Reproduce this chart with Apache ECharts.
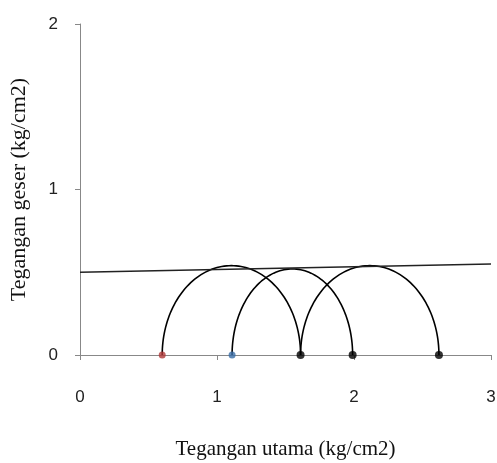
<!DOCTYPE html>
<html>
<head>
<meta charset="utf-8">
<script src="https://cdn.jsdelivr.net/npm/echarts@6/dist/echarts.min.js"></script>
<style>
  html, body { margin: 0; padding: 0; background: #fff; }
  #chart { width: 497px; height: 463px; }
</style>
</head>
<body>
<div id="chart"></div>
<script>
// Mohr circles: minor / major principal stress and the top of each arc
const sigma3 = [0.6, 1.11, 1.61];
const sigma1 = [1.61, 1.99, 2.62];
const arcTop = [0.54, 0.52, 0.54];
// failure envelope end points
const envelopeX = [0, 3];
const envelopeY = [0.5, 0.55];
// marked points on the sigma axis
const redPoint = [0.6];
const bluePoint = [1.11];
const blackPoints = [1.61, 1.99, 2.62];
const xTicks = [0, 1, 2, 3];
const yTicks = [0, 1, 2];

const chart = echarts.init(document.getElementById('chart'));

const circleData = sigma3.map((s, i) => [s, sigma1[i], arcTop[i]]);

const renderArc = (params, api) => {
  const s3 = api.value(0);
  const s1 = api.value(1);
  const top = api.value(2);
  const c = (s3 + s1) / 2;
  const r = (s1 - s3) / 2;
  const pts = [];
  for (let k = 0; k <= 90; k++) {
    const a = Math.PI * k / 90;
    pts.push(api.coord([c - r * Math.cos(a), top * Math.sin(a)]));
  }
  return {
    type: 'polyline',
    shape: { points: pts },
    style: { stroke: '#000', lineWidth: 1.6, fill: null },
  };
};

const axisFont = { color: '#222', fontFamily: 'Liberation Sans', fontSize: 17 };

chart.setOption({
  animation: false,
  grid: { left: 80, right: 6, top: 24, bottom: 108, outerBoundsMode: 'none', containLabel: false },
  xAxis: {
    type: 'value',
    min: xTicks[0],
    max: xTicks[xTicks.length - 1],
    interval: 1,
    name: 'Tegangan utama (kg/cm2)',
    nameLocation: 'middle',
    nameGap: 84,
    nameTextStyle: { color: '#111', fontFamily: 'Liberation Serif', fontSize: 21 },
    axisLine: { lineStyle: { color: '#888', width: 1 } },
    axisTick: { show: true, length: 5, lineStyle: { color: '#888' } },
    axisLabel: { ...axisFont, margin: 34 },
    splitLine: { show: false },
  },
  yAxis: {
    type: 'value',
    min: yTicks[0],
    max: yTicks[yTicks.length - 1],
    interval: 1,
    name: 'Tegangan geser (kg/cm2)',
    nameLocation: 'middle',
    nameGap: 50,
    nameTextStyle: { color: '#111', fontFamily: 'Liberation Serif', fontSize: 22 },
    axisLine: { show: true, lineStyle: { color: '#888', width: 1 } },
    axisTick: { show: true, length: 5, lineStyle: { color: '#888' } },
    axisLabel: { ...axisFont, margin: 22 },
    splitLine: { show: false },
  },
  series: [
    {
      type: 'line',
      data: envelopeX.map((x, i) => [x, envelopeY[i]]),
      symbol: 'none',
      lineStyle: { color: '#222', width: 1.5 },
    },
    {
      type: 'custom',
      renderItem: renderArc,
      data: circleData,
      clip: true,
    },
    {
      type: 'scatter',
      data: redPoint.map((x) => [x, 0]),
      symbolSize: 7,
      itemStyle: { color: '#b03a3a' },
    },
    {
      type: 'scatter',
      data: bluePoint.map((x) => [x, 0]),
      symbolSize: 7,
      itemStyle: { color: '#3a6ea8' },
    },
    {
      type: 'scatter',
      data: blackPoints.map((x) => [x, 0]),
      symbolSize: 8,
      itemStyle: { color: '#000' },
    },
  ],
});
</script>
</body>
</html>
